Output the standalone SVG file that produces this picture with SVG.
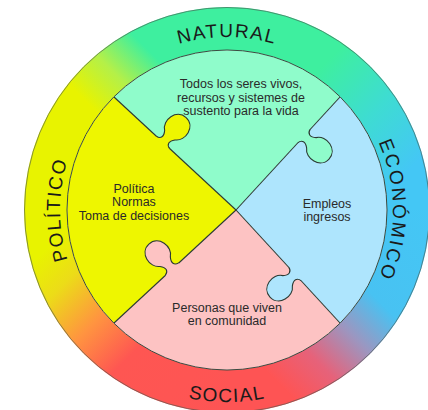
<svg xmlns="http://www.w3.org/2000/svg" xmlns:xlink="http://www.w3.org/1999/xlink" width="428" height="410" viewBox="0 0 428 410">
  <style>
    .ringlabel { font-family: "Liberation Sans", Arial, sans-serif; font-size: 19px; fill: #1a1a1a; }
    .body { font-family: "Liberation Sans", Arial, sans-serif; font-size: 12.5px; fill: #2a2a2a; text-anchor: middle; }
    .div { stroke: #2b3a33; stroke-width: 1.1; fill: none; }
    .kstroke { stroke: #2b3a33; stroke-width: 1.1; fill: none; }
  </style>
  <defs>
    <linearGradient id="gTR" gradientUnits="userSpaceOnUse" x1="227" y1="7" x2="430" y2="210">
      <stop offset="0" stop-color="#3eef9f"/>
      <stop offset="0.38" stop-color="#3eef9f"/>
      <stop offset="0.62" stop-color="#3edcd2"/>
      <stop offset="0.85" stop-color="#44c7f5"/>
      <stop offset="1" stop-color="#44c7f5"/>
    </linearGradient>
    <linearGradient id="gBR" gradientUnits="userSpaceOnUse" x1="430" y1="210" x2="227" y2="413">
      <stop offset="0" stop-color="#44c7f5"/>
      <stop offset="0.35" stop-color="#48c2f2"/>
      <stop offset="0.5" stop-color="#9c96c0"/>
      <stop offset="0.65" stop-color="#e6627a"/>
      <stop offset="0.8" stop-color="#fe5454"/>
      <stop offset="1" stop-color="#fe5454"/>
    </linearGradient>
    <linearGradient id="gBL" gradientUnits="userSpaceOnUse" x1="227" y1="413" x2="24" y2="210">
      <stop offset="0" stop-color="#fe5454"/>
      <stop offset="0.38" stop-color="#fe5652"/>
      <stop offset="0.55" stop-color="#ff9440"/>
      <stop offset="0.72" stop-color="#ecdc18"/>
      <stop offset="0.85" stop-color="#e8f300"/>
      <stop offset="1" stop-color="#e8f300"/>
    </linearGradient>
    <linearGradient id="gTL" gradientUnits="userSpaceOnUse" x1="24" y1="210" x2="227" y2="7">
      <stop offset="0" stop-color="#e8f300"/>
      <stop offset="0.42" stop-color="#e8f300"/>
      <stop offset="0.56" stop-color="#b4f048"/>
      <stop offset="0.7" stop-color="#3eef9f"/>
      <stop offset="1" stop-color="#3eef9f"/>
    </linearGradient>
    <path id="kf" d="M -9 -2 L -9 0 C -4 1 -3 5 -7 10 C -16 16 -13 34 0 34 C 13 34 16 16 7 10 C 3 5 4 1 9 0 L 9 -2 Z"/>
    <path id="ks" d="M -9 0 C -4 1 -3 5 -7 10 C -16 16 -13 34 0 34 C 13 34 16 16 7 10 C 3 5 4 1 9 0"/>
    <path id="pTop" d="M 54 210 A 173 173 0 0 1 400 210"/>
    <path id="pRight" d="M 227 44 A 166 166 0 0 1 227 376"/>
    <path id="pBottom" d="M 35 210 A 192 192 0 0 0 419 210"/>
    <path id="pLeft" d="M 227 377 A 167 167 0 0 1 227 43"/>
  </defs>

  <rect width="428" height="410" fill="#ffffff"/>

  <g id="ring">
    <path d="M 227 7 A 203 203 0 0 1 430 210 L 387 210 A 160 160 0 0 0 227 50 Z" fill="url(#gTR)"/>
    <path d="M 430 210 A 203 203 0 0 1 227 413 L 227 370 A 160 160 0 0 0 387 210 Z" fill="url(#gBR)"/>
    <path d="M 227 413 A 203 203 0 0 1 24 210 L 67 210 A 160 160 0 0 0 227 370 Z" fill="url(#gBL)"/>
    <path d="M 24 210 A 203 203 0 0 1 227 7 L 227 50 A 160 160 0 0 0 67 210 Z" fill="url(#gTL)"/>
    <circle cx="227" cy="210" r="202.5" fill="none" stroke="#4a5a50" stroke-width="0.9" stroke-opacity="0.7"/>
  </g>

  <g id="natural">
    <path d="M 236 210 L 114 97 A 160 160 0 0 1 340 97 Z" fill="#8ffccb"/>
    <text class="body"><tspan x="241" y="88">Todos los seres vivos,</tspan><tspan x="241" y="101.5">recursos y sistemes de</tspan><tspan x="241" y="115">sustento para la vida</tspan></text>
    <text class="ringlabel" letter-spacing="1.5"><textPath href="#pTop" startOffset="50%" text-anchor="middle">NATURAL</textPath></text>
  </g>

  <g id="economico">
    <path d="M 236 210 L 340 97 A 160 160 0 0 1 340 323 Z" fill="#aee5fd"/>
    <text class="body"><tspan x="327" y="207.5">Empleos</tspan><tspan x="327" y="221">ingresos</tspan></text>
    <text class="ringlabel" letter-spacing="2.3"><textPath href="#pRight" startOffset="50%" text-anchor="middle">ECONÓMICO</textPath></text>
  </g>

  <g id="social">
    <path d="M 236 210 L 340 323 A 160 160 0 0 1 114 323 Z" fill="#fdc3c3"/>
    <text class="body"><tspan x="227" y="311.5">Personas que viven</tspan><tspan x="227" y="325">en comunidad</tspan></text>
    <text class="ringlabel" letter-spacing="1.4"><textPath href="#pBottom" startOffset="50%" text-anchor="middle">SOCIAL</textPath></text>
  </g>

  <g id="politico">
    <path d="M 236 210 L 114 323 A 160 160 0 0 1 114 97 Z" fill="#eef600"/>
    <text class="body"><tspan x="134" y="192.5">Política</tspan><tspan x="134" y="206">Normas</tspan><tspan x="134" y="219.5">Toma de decisiones</tspan></text>
    <text class="ringlabel" letter-spacing="1.6"><textPath href="#pLeft" startOffset="50%" text-anchor="middle">POLÍTICO</textPath></text>
  </g>

  <g id="connectors">
    <line class="div" x1="114" y1="97" x2="236" y2="210"/>
    <line class="div" x1="340" y1="97" x2="236" y2="210"/>
    <line class="div" x1="340" y1="323" x2="236" y2="210"/>
    <line class="div" x1="114" y1="323" x2="236" y2="210"/>
    <circle cx="227" cy="210" r="160" fill="none" stroke="#3a4a40" stroke-width="1"/>
    <use href="#kf" fill="#eef600" transform="matrix(0.734 0.680 0.680 -0.734 163 142.5)"/>
    <use href="#ks" class="kstroke" transform="matrix(0.734 0.680 0.680 -0.734 163 142.5)"/>
    <use href="#kf" fill="#8ffccb" transform="matrix(-0.677 0.736 0.736 0.677 304 136)"/>
    <use href="#ks" class="kstroke" transform="matrix(-0.677 0.736 0.736 0.677 304 136)"/>
    <use href="#kf" fill="#fdc3c3" transform="matrix(0.734 -0.680 -0.680 -0.734 172 269)"/>
    <use href="#ks" class="kstroke" transform="matrix(0.734 -0.680 -0.680 -0.734 172 269)"/>
    <use href="#kf" fill="#aee5fd" transform="matrix(-0.677 -0.736 -0.736 0.677 295 274)"/>
    <use href="#ks" class="kstroke" transform="matrix(-0.677 -0.736 -0.736 0.677 295 274)"/>
  </g>
</svg>
